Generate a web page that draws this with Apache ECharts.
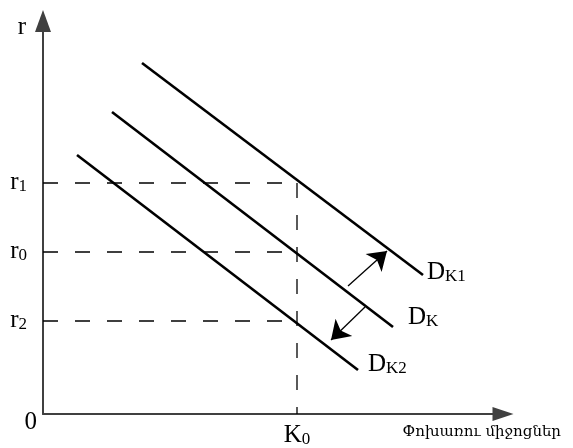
<!DOCTYPE html>
<html><head><meta charset="utf-8">
<script src="https://cdn.jsdelivr.net/npm/echarts@6/dist/echarts.min.js"></script>
<style>html,body{margin:0;padding:0;background:#fff}#c{width:573px;height:448px}</style>
</head><body><div id="c"></div>
<script>
// levels (units: px from origin)
const K0 = 254;
const rValues = [93, 162, 231];          // r2, r0, r1
const rNames = ['2', '0', '1'];
const yTickValues = [0, 93, 162, 231];
const xTickValues = [254];
const curveDK1 = [[99, 351], [380, 139]];
const curveDK = [[69, 302], [350, 87]];
const curveDK2 = [[34, 259], [315, 44]];
const shiftUp = [[305, 128], [344, 163]];
const shiftDown = [[322, 107], [288, 74]];
const curveNames = ['K1', 'K', 'K2'];
const xName = 'Փոխառու միջոցներ';
const yName = 'r';

const SERIF = "'Liberation Serif','Times New Roman',serif";
const richSub = {
  d: {fontFamily: SERIF, fontSize: 25, lineHeight: 24, color: '#000', verticalAlign: 'bottom'},
  s: {fontFamily: SERIF, fontSize: 17, lineHeight: 5, color: '#000', verticalAlign: 'bottom'}
};

function dashed(points) {
  return {type: 'line', data: points, symbol: 'none', silent: true,
    lineStyle: {color: '#000', width: 1.3, type: [15, 17]}, z: 2};
}
function curve(points, name, offset) {
  return {type: 'line', data: points, symbol: 'none', silent: true,
    lineStyle: {color: '#000', width: 2.6}, z: 3,
    endLabel: {show: true, formatter: '{d|D}{s|' + name + '}', rich: richSub, distance: 4, offset: offset}};
}

const series = [];
rValues.forEach(v => series.push(dashed([[0, v], [K0, v]])));
series.push(dashed([[K0, Math.max(...rValues)], [K0, 0]]));
series.push(curve(curveDK1, curveNames[0], [0, -2]));
series.push(curve(curveDK, curveNames[1], [11, -9]));
series.push(curve(curveDK2, curveNames[2], [6, -5]));
series.push({
  type: 'lines', coordinateSystem: 'cartesian2d', silent: true, z: 4,
  symbol: ['none', 'arrow'], symbolSize: 18,
  lineStyle: {color: '#000', width: 1.3, opacity: 1},
  data: [{coords: shiftUp}, {coords: shiftDown}]
});

const chart = echarts.init(document.getElementById('c'), null, {renderer: 'canvas'});
chart.setOption({
  animation: false,
  backgroundColor: '#fff',
  grid: {left: 43, top: 21, right: 70, bottom: 34, containLabel: false, outerBoundsMode: 'none'},
  xAxis: {
    type: 'value', min: 0, max: 460,
    name: xName, nameLocation: 'end', nameGap: 58,
    nameTextStyle: {fontFamily: "'DejaVu Serif',serif", fontSize: 15, color: '#000', align: 'right', verticalAlign: 'top', padding: [11, 0, 0, 0]},
    axisLine: {show: true, symbol: ['none', 'triangle'], symbolSize: [14, 21], lineStyle: {color: '#404040', width: 2}},
    axisTick: {show: false},
    splitLine: {show: false},
    axisLabel: {
      customValues: xTickValues, margin: 10,
      formatter: () => '{d|K}{s|0}', rich: richSub
    }
  },
  yAxis: {
    type: 'value', min: 0, max: 393,
    name: yName, nameLocation: 'end', nameGap: -19,
    nameTextStyle: {fontFamily: SERIF, fontSize: 25, color: '#000', align: 'right', padding: [0, 17, 0, 0]},
    axisLine: {show: true, symbol: ['none', 'triangle'], symbolSize: [16, 22], lineStyle: {color: '#404040', width: 2}},
    axisTick: {show: false},
    splitLine: {show: false},
    axisLabel: {
      customValues: yTickValues, margin: 6,
      formatter: (v) => {
        if (v === 0) return '{z|0}';
        const i = rValues.indexOf(v);
        return '{d|r}{p|' + rNames[i] + '}';
      },
      rich: {
        d: richSub.d,
        p: Object.assign({}, richSub.s, {padding: [0, 10, 0, 0]}),
        z: {fontFamily: SERIF, fontSize: 25, lineHeight: 24, color: '#000', padding: [16, 0, 0, 0]}
      }
    }
  },
  series: series
});
</script></body></html>
